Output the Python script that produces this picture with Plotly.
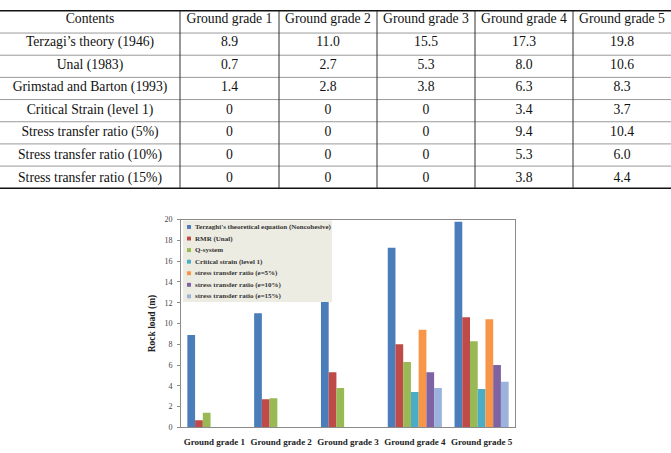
import plotly.graph_objects as go

W, H = 671, 453

grades = ["Ground grade 1", "Ground grade 2", "Ground grade 3", "Ground grade 4", "Ground grade 5"]

table_rows = ["Terzagi\u2019s theory (1946)", "Unal (1983)", "Grimstad and Barton (1993)",
              "Critical Strain (level 1)", "Stress transfer ratio (5%)",
              "Stress transfer ratio (10%)", "Stress transfer ratio (15%)"]

legend_names = ["Terzaghi's theoretical equation (Noncohesive)", "RMR (Unal)", "Q-system",
                "Critical strain (level 1)", "stress transfer ratio (e=5%)",
                "stress transfer ratio (e=10%)", "stress transfer ratio (e=15%)"]

terzaghi = [8.9, 11.0, 15.5, 17.3, 19.8]
unal = [0.7, 2.7, 5.3, 8.0, 10.6]
qsys = [1.4, 2.8, 3.8, 6.3, 8.3]
critical = [0, 0, 0, 3.4, 3.7]
str5 = [0, 0, 0, 9.4, 10.4]
str10 = [0, 0, 0, 5.3, 6.0]
str15 = [0, 0, 0, 3.8, 4.4]

series = [terzaghi, unal, qsys, critical, str5, str10, str15]
colors = ["#4A7DBA", "#BE4B48", "#98B954", "#4BACC6", "#F79646", "#7F62A1", "#9AB2DC"]

def px_x(x):
    return x / W

def px_y(y):
    return 1 - y / H

def nb(s):
    return s.replace(" ", "\u00a0")

fig = go.Figure()

# ---------- table ----------
def fmt(v):
    return "0" if v == 0 else f"{v:.1f}"

cols = [[nb(r) for r in table_rows]] + [[fmt(s[i]) for s in series] for i in range(len(grades))]
tbl_top, tbl_bot = 7, 188
row_h = (tbl_bot - tbl_top) / 8
col_edges = [0, 180, 279, 377, 475, 573, 671]
widths = [col_edges[i + 1] - col_edges[i] for i in range(6)]
tfont = dict(family="Liberation Serif", size=13.7, color="#111")

fig.add_trace(go.Table(
    domain=dict(x=[0, 1], y=[0.5, px_y(tbl_top - 6)]),
    columnwidth=widths,
    header=dict(values=[nb(v) for v in ["Contents"] + grades], height=row_h, font=tfont,
                fill_color="rgba(0,0,0,0)", line_color="rgba(0,0,0,0)", align="center"),
    cells=dict(values=cols, height=row_h, font=tfont,
               fill_color="rgba(0,0,0,0)", line_color="rgba(0,0,0,0)", align="center"),
))

shapes = []
# horizontal table lines
for k in range(9):
    y = tbl_top + k * row_h
    if k in (0, 8):
        col, wd = "#111", 1.5
    else:
        col, wd = "#9a9a9a", 1
    shapes.append(dict(type="line", xref="paper", yref="paper", x0=0, x1=1,
                       y0=px_y(y), y1=px_y(y), line=dict(color=col, width=wd)))
for xe in col_edges[1:-1]:
    shapes.append(dict(type="line", xref="paper", yref="paper", x0=px_x(xe), x1=px_x(xe),
                       y0=px_y(tbl_top), y1=px_y(tbl_bot), line=dict(color="#333", width=1)))

# ---------- bars ----------
for name, vals, c in zip(legend_names, series, colors):
    fig.add_trace(go.Bar(x=grades, y=vals, name=name, marker=dict(color=c, line=dict(width=0)),
                         showlegend=False))

# ---------- manual legend ----------
lg_x0, lg_x1, lg_y0, lg_y1 = 183, 332, 221, 304
shapes.append(dict(type="rect", xref="paper", yref="paper", layer="above",
                   x0=px_x(lg_x0), x1=px_x(lg_x1), y0=px_y(lg_y1), y1=px_y(lg_y0),
                   fillcolor="#EDECE3", line=dict(width=0)))
annotations = []
item_y0, item_dy = 227.5, 11.8
for i, (name, c) in enumerate(zip(legend_names, colors)):
    yc = item_y0 + i * item_dy
    shapes.append(dict(type="rect", xref="paper", yref="paper", layer="above",
                       x0=px_x(187), x1=px_x(191), y0=px_y(yc + 2), y1=px_y(yc - 2),
                       fillcolor=c, line=dict(width=0)))
    annotations.append(dict(xref="paper", yref="paper", x=px_x(193), y=px_y(yc),
                            xanchor="left", yanchor="middle", showarrow=False, text=name,
                            font=dict(family="Liberation Serif", size=7, color="#333", weight="bold")))

fig.update_layout(
    width=W, height=H, margin=dict(l=0, r=0, t=0, b=0),
    paper_bgcolor="white", plot_bgcolor="white",
    barmode="group", bargap=0.19, bargroupgap=0,
    shapes=shapes, annotations=annotations,
    showlegend=False,
    xaxis=dict(domain=[px_x(181), px_x(515)], showline=True, linecolor="#8a8a8a", linewidth=1,
               mirror=True, ticks="", showgrid=False, ticklabelstandoff=6,
               tickfont=dict(family="Liberation Serif", size=9, color="#222", weight="bold")),
    yaxis=dict(domain=[px_y(432), px_y(220)], range=[0, 20], dtick=2, showline=True,
               linecolor="#8a8a8a", linewidth=1, mirror=True, ticks="outside", ticklen=3,
               tickcolor="#8a8a8a", showgrid=False, zeroline=False, ticklabelstandoff=3,
               tickfont=dict(family="Liberation Serif", size=8, color="#444"),
               title=dict(text="Rock load (m)", standoff=7,
                          font=dict(family="Liberation Serif", size=9.5, color="#222", weight="bold"))),
)

fig.write_html("out.html")
